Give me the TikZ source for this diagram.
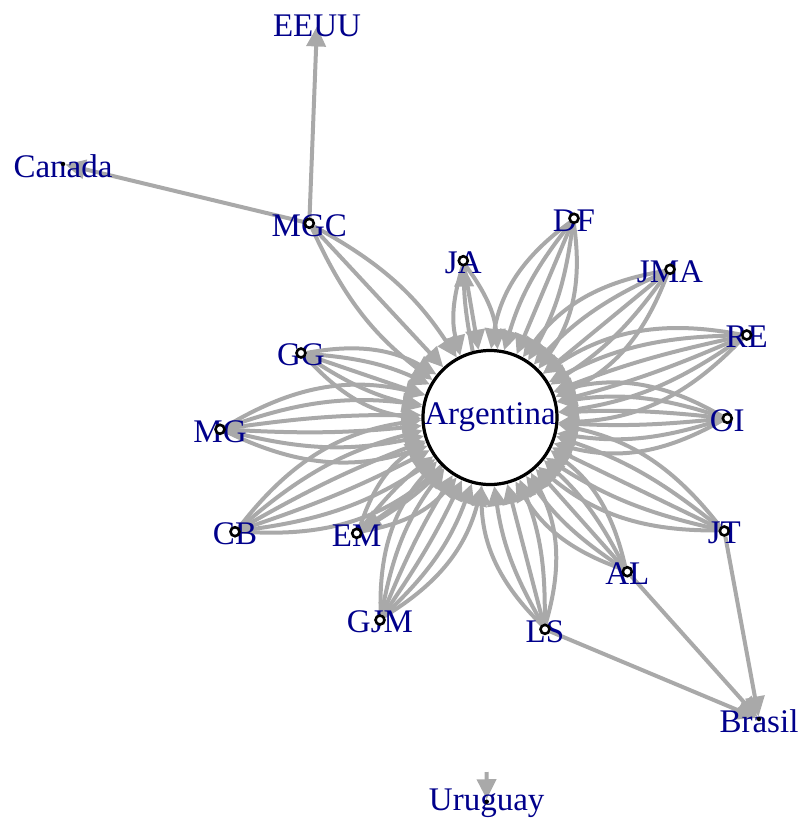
\documentclass[tikz,border=0pt]{standalone}
\usepackage{fontspec}
\setmainfont{Liberation Serif}
\usetikzlibrary{arrows.meta}
\pgfdeclarelayer{edges}
\pgfdeclarelayer{labels}
\pgfsetlayers{edges,labels,main}
\definecolor{edgegray}{RGB}{169,169,169}
\definecolor{labblue}{RGB}{0,0,139}
\tikzset{
  vtx/.style={circle,draw=black,fill=white,line width=2.6pt,minimum size=9pt,inner sep=0pt},
  dotv/.style={circle,fill=black,minimum size=4.5pt,inner sep=0pt},
  hub/.style={circle,draw=black,line width=3.2pt,fill=white,minimum size=134pt,inner sep=0pt},
  lab/.style={text=labblue,font=\fontsize{33}{36}\selectfont,inner sep=0pt,yshift=-2pt},
  edge/.style={draw=edgegray,line width=4pt,-{Triangle[length=20pt,width=19pt]}},
}
% a bundle of parallel edges from #1 to the hub, #2 edges, bends spread over +-#3 degrees
\newcommand\edgebundle[3]{%
  \foreach \k in {1,...,#2}{%
    \pgfmathsetmacro\bendang{-#3+(\k-1)*2*#3/(#2-1)}%
    \draw[edge] (#1) to[bend left=\bendang] (ARG);
  }}
\begin{document}
\begin{tikzpicture}[x=1pt,y=-1pt]
\useasboundingbox (0,0) rectangle (802,820);

% vertices
\node[hub] (ARG) at (490,417.5) {};
\node[lab,yshift=0pt] (lARG) at (490,415.5) {Argentina};
\foreach \n/\x/\y in {MGC/309.3/223.3, JA/463.3/260.7, DF/574/218.3, JMA/670/269.3,
    RE/746.7/335, OI/727.3/418.3, JT/724.3/531, AL/627.3/571.7, LS/545/629.3,
    GJM/380/620, EM/356.7/533.3, CB/235/531.7, MG/220/429.3, GG/301/353}
  \node[vtx] (\n) at (\x,\y) {};
\node[dotv] (BRA) at (759,719) {};
\node[dotv] (URU) at (486.7,801.7) {};
\node[dotv] (CAN) at (63,164) {};
\node[dotv,fill=none] (USA) at (317,24) {};
\coordinate (uruTop) at (486.5,772);

% labels
\begin{pgfonlayer}{labels}
\foreach \n/\t in {MGC/MGC, JA/JA, DF/DF, JMA/JMA, RE/RE, OI/OI, JT/JT, AL/AL,
    LS/LS, GJM/GJM, EM/EM, CB/CB, MG/MG, GG/GG, BRA/Brasil, URU/Uruguay,
    CAN/Canada, USA/EEUU}
  \node[lab] (l\n) at (\n) {\t};
\end{pgfonlayer}

% edges
\begin{pgfonlayer}{edges}
\edgebundle{MGC}{3}{14}
\edgebundle{JA}{3}{16}
\draw[edge] (ARG) to[bend left=5] (JA);
\edgebundle{DF}{5}{22}
\edgebundle{JMA}{5}{22}
\edgebundle{RE}{6}{22}
\edgebundle{OI}{6}{22}
\edgebundle{JT}{5}{20}
\edgebundle{AL}{5}{20}
\edgebundle{LS}{5}{22}
\edgebundle{GJM}{6}{22}
\edgebundle{EM}{4}{20}
\draw[edge] (ARG) to[bend left=4] (EM);
\edgebundle{CB}{6}{22}
\edgebundle{MG}{6}{22}
\edgebundle{GG}{5}{20}
\draw[edge] (MGC) -- (USA);
\draw[edge] (MGC) -- (CAN);
\draw[edge] (LS) -- (BRA);
\draw[edge] (AL) -- (BRA);
\draw[edge] (JT) -- (BRA);
\draw[edge] (uruTop) -- (URU);
\end{pgfonlayer}
\end{tikzpicture}
\end{document}
